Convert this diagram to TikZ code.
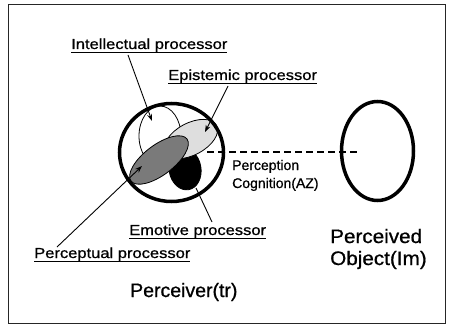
\documentclass[tikz,border=0pt]{standalone}
\usepackage{fontspec}
\setmainfont{Liberation Sans}[FakeBold=1.2]
\newfontfamily\labfont{Liberation Sans}[FakeBold=0.8]
\usetikzlibrary{shapes.geometric,arrows.meta}
\newcommand\ulx[1]{\setbox0\hbox{#1}\rlap{\rule[-4pt]{\wd0}{1.1pt}}\box0}
\tikzset{
  ulab/.style={anchor=base west, inner sep=0pt, font=\labfont\fontsize{14.5}{16}\selectfont, xscale=1.14},
  smalllab/.style={anchor=base west, inner sep=0pt, font=\labfont\fontsize{14}{16}\selectfont},
  biglab/.style={anchor=base west, inner sep=0pt, font=\labfont\fontsize{19.5}{22}\selectfont, xscale=1.06},
  ell/.style={ellipse, inner sep=0pt, draw=black},
  thinline/.style={line width=0.9pt, draw=black},
  pointer/.style={thinline, -{Stealth[length=7pt,width=5pt]}},
}
\begin{document}
\begin{tikzpicture}[x=1pt,y=-1pt]
\useasboundingbox (0,0) rectangle (449,326);
% frame
\draw[line width=0.9pt, black!85] (8,4.5) rectangle (445,323);

% dashed perception line
\coordinate (dstart) at (207,152);
\coordinate (dend) at (360,152);
\draw[line width=1.6pt, dash pattern=on 7pt off 4pt] (dstart) -- (dend);

% processors
\node[ell, fill=white, line width=0.8pt, minimum width=42pt, minimum height=60pt] (intl) at (160,136) {};
\node[ell, fill=black, line width=0.8pt, minimum width=32pt, minimum height=42pt, rotate=10] (emo) at (185,169) {};
\node[ell, fill=black!13, line width=0.8pt, minimum width=58pt, minimum height=32pt, rotate=28] (epi) at (191,139) {};
\node[ell, fill=black!52, line width=0.8pt, minimum width=70pt, minimum height=30pt, rotate=37] (pcp) at (159,160) {};

% perceiver and object
\node[ell, line width=3.5pt, minimum width=104pt, minimum height=98pt] (perceiver) at (171.5,152.5) {};
\node[ell, line width=3.5pt, minimum width=72pt, minimum height=99pt] (object) at (377.5,151) {};

% labels
\node[ulab] (lintl) at (71,49) {\ulx{Intellectual processor}};
\node[ulab] (lepi) at (168,80) {\ulx{Epistemic processor}};
\node[ulab] (lemo) at (129,235) {\ulx{Emotive processor}};
\node[ulab] (lpcp) at (34,258) {\ulx{Perceptual processor}};
\node[smalllab] (lperc) at (232,170) {Perception};
\node[smalllab] (lcog) at (232,188) {Cognition(AZ)};
\node[biglab] (lpd) at (330,243) {Perceived};
\node[biglab] (lobj) at (330,265) {Object(Im)};
\node[biglab, xscale=1/1.06] (lper) at (130,297) {Perceiver(tr)};

% connector ends
\coordinate (aintl0) at (128,55);
\coordinate (aintl1) at (152,121);
\coordinate (aepi0) at (228,86);
\coordinate (aepi1) at (205,132);
\coordinate (apcp0) at (57,247);
\coordinate (apcp1) at (142,166);
\coordinate (aemo0) at (212,222);
\coordinate (aemo1) at (196,188);

\draw[pointer] (aintl0) -- (aintl1);
\draw[pointer] (aepi0) -- (aepi1);
\draw[pointer] (apcp0) -- (apcp1);
\draw[thinline] (aemo0) -- (aemo1);
\end{tikzpicture}
\end{document}
